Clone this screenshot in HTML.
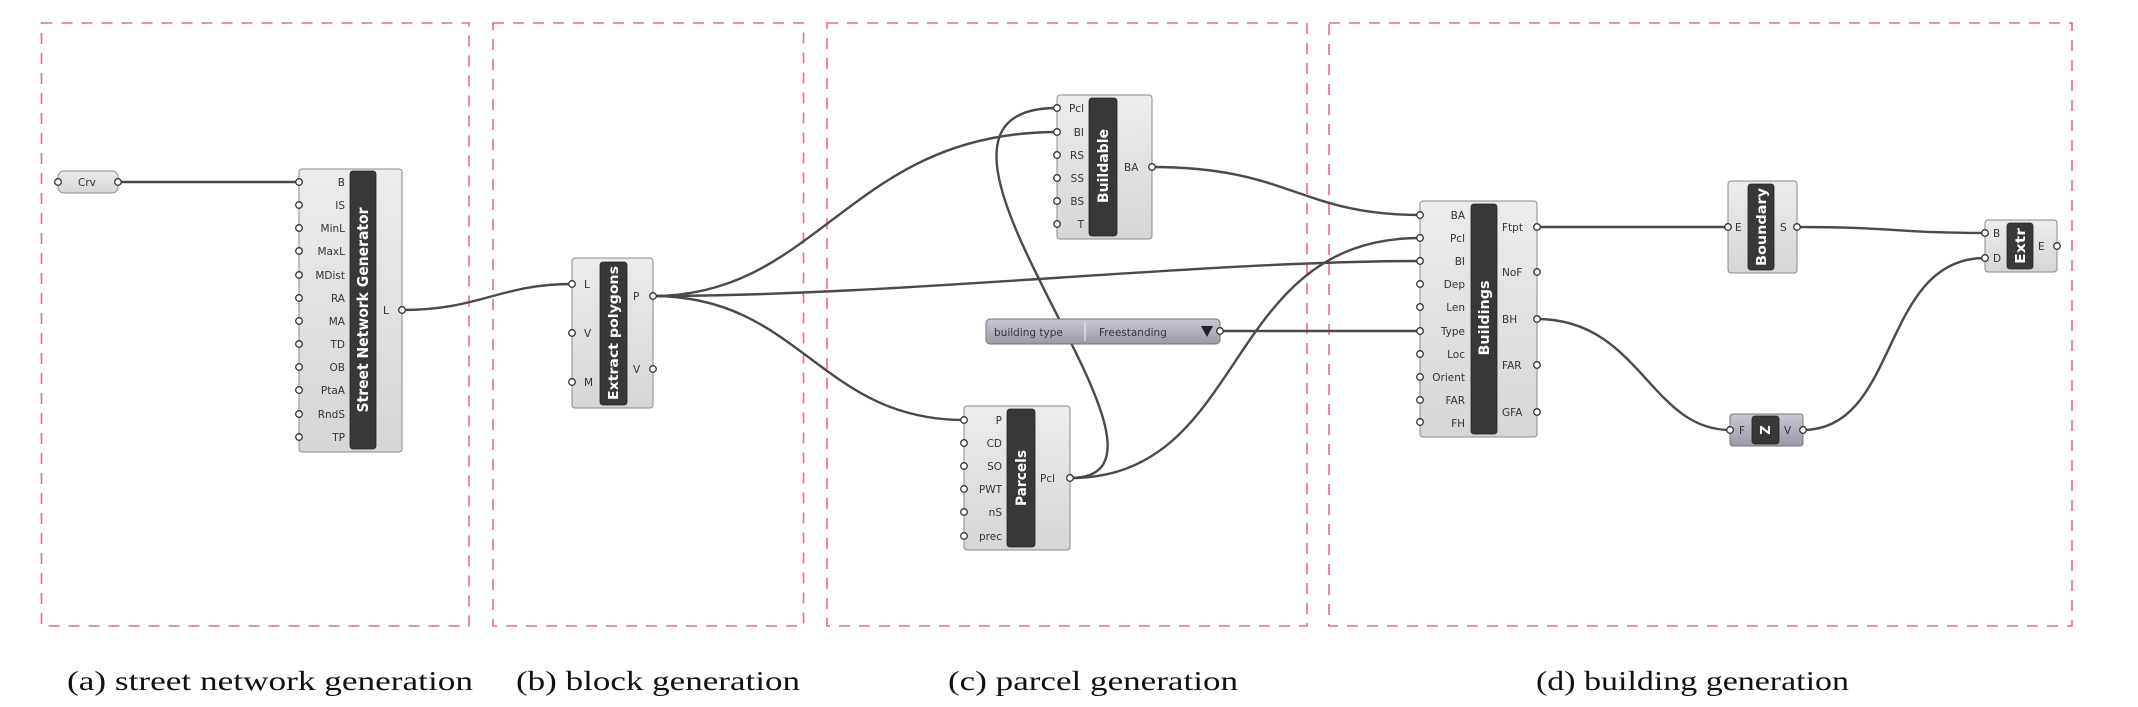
<!DOCTYPE html>
<html><head><meta charset="utf-8"><style>
html,body{margin:0;padding:0;background:#fff;}
svg{display:block}
.lbl{font-family:"DejaVu Sans","Liberation Sans",sans-serif;font-size:10.5px;fill:#333}
.bar{font-family:"DejaVu Sans","Liberation Sans",sans-serif;font-weight:bold;fill:#fff}
.cap{font-family:"Liberation Serif",serif;font-size:27px;fill:#111}
.w{fill:none;stroke:#4a4a4a;stroke-width:2.4}
.box{fill:none;stroke:#ec6b80;stroke-width:1.6;stroke-dasharray:11 9}
.node{fill:url(#g);stroke:#8a8a8a;stroke-width:1}
.db{fill:#383838;stroke:#222;stroke-width:0.8}
.grip{fill:#fff;stroke:#333;stroke-width:1.3}
</style></head><body>
<svg width="2138" height="707" viewBox="0 0 2138 707" xmlns="http://www.w3.org/2000/svg">
<defs>
<linearGradient id="g" x1="0" y1="0" x2="0" y2="1"><stop offset="0" stop-color="#ececec"/><stop offset="1" stop-color="#d6d6d6"/></linearGradient>
<linearGradient id="p" x1="0" y1="0" x2="0" y2="1"><stop offset="0" stop-color="#c9c9d3"/><stop offset="1" stop-color="#9a9aa8"/></linearGradient>
</defs>
<!-- dashed boxes -->
<rect class="box" x="41.5" y="23" width="427.5" height="603"/>
<rect class="box" x="493" y="23" width="310.5" height="603"/>
<rect class="box" x="827" y="23" width="480" height="603"/>
<rect class="box" x="1329" y="23" width="743" height="603"/>

<!-- wires -->
<path class="w" d="M118,182 L299,182"/>
<path class="w" d="M402,310 C480,310 500,284 572,284"/>
<path class="w" d="M653,296 C820,296 850,132 1057,132"/>
<path class="w" d="M653,296 C900,296 1200,261 1420,261"/>
<path class="w" d="M653,296 C800,296 820,420 964,420"/>
<path class="w" d="M1070,478 C1220,478 860,108 1057,108"/>
<path class="w" d="M1070,478 C1250,478 1220,238 1420,238"/>
<path class="w" d="M1152,167 C1290,167 1300,215 1420,215"/>
<path class="w" d="M1220,331 L1420,331"/>
<path class="w" d="M1537,227 L1728,227"/>
<path class="w" d="M1797,227 C1890,227 1900,233 1985,233"/>
<path class="w" d="M1537,319 C1640,319 1650,430 1730,430"/>
<path class="w" d="M1803,430 C1900,430 1880,258 1985,258"/>

<!-- Crv -->
<rect class="node" x="58" y="171" width="60" height="22" rx="6"/>
<text class="lbl" x="78" y="186">Crv</text>
<circle class="grip" cx="58" cy="182" r="3.3"/><circle class="grip" cx="118" cy="182" r="3.3"/>

<!-- Street Network Generator -->
<rect class="node" x="299" y="169" width="103" height="283" rx="3"/>
<rect class="db" x="350" y="171" width="26" height="278" rx="3"/>
<text class="bar" font-size="15" transform="translate(368,310) rotate(-90)" text-anchor="middle" textLength="205" lengthAdjust="spacingAndGlyphs">Street Network Generator</text>
<g text-anchor="end" class="lbl">
<text x="345" y="186">B</text><text x="345" y="209">IS</text><text x="345" y="232">MinL</text><text x="345" y="255">MaxL</text><text x="345" y="279">MDist</text><text x="345" y="302">RA</text><text x="345" y="325">MA</text><text x="345" y="348">TD</text><text x="345" y="371">OB</text><text x="345" y="394">PtaA</text><text x="345" y="418">RndS</text><text x="345" y="441">TP</text>
</g>
<text class="lbl" x="383" y="314">L</text>
<g><circle class="grip" cx="299" cy="182" r="3.3"/><circle class="grip" cx="299" cy="205" r="3.3"/><circle class="grip" cx="299" cy="228" r="3.3"/><circle class="grip" cx="299" cy="251" r="3.3"/><circle class="grip" cx="299" cy="275" r="3.3"/><circle class="grip" cx="299" cy="298" r="3.3"/><circle class="grip" cx="299" cy="321" r="3.3"/><circle class="grip" cx="299" cy="344" r="3.3"/><circle class="grip" cx="299" cy="367" r="3.3"/><circle class="grip" cx="299" cy="390" r="3.3"/><circle class="grip" cx="299" cy="414" r="3.3"/><circle class="grip" cx="299" cy="437" r="3.3"/><circle class="grip" cx="402" cy="310" r="3.3"/></g>

<!-- Extract polygons -->
<rect class="node" x="572" y="258" width="81" height="150" rx="3"/>
<rect class="db" x="600" y="262" width="27" height="143" rx="3"/>
<text class="bar" font-size="13" transform="translate(618,333) rotate(-90)" text-anchor="middle" textLength="134" lengthAdjust="spacingAndGlyphs">Extract polygons</text>
<text class="lbl" x="584" y="288">L</text><text class="lbl" x="584" y="337">V</text><text class="lbl" x="584" y="386">M</text>
<text class="lbl" x="633" y="300">P</text><text class="lbl" x="633" y="373">V</text>
<circle class="grip" cx="572" cy="284" r="3.3"/><circle class="grip" cx="572" cy="333" r="3.3"/><circle class="grip" cx="572" cy="382" r="3.3"/><circle class="grip" cx="653" cy="296" r="3.3"/><circle class="grip" cx="653" cy="369" r="3.3"/>

<!-- Buildable -->
<rect class="node" x="1057" y="95" width="95" height="144" rx="3"/>
<rect class="db" x="1089" y="98" width="28" height="138" rx="3"/>
<text class="bar" font-size="14" transform="translate(1108,166) rotate(-90)" text-anchor="middle" textLength="74" lengthAdjust="spacingAndGlyphs">Buildable</text>
<g text-anchor="end" class="lbl"><text x="1084" y="112">Pcl</text><text x="1084" y="136">BI</text><text x="1084" y="159">RS</text><text x="1084" y="182">SS</text><text x="1084" y="205">BS</text><text x="1084" y="228">T</text></g>
<text class="lbl" x="1124" y="171">BA</text>
<circle class="grip" cx="1057" cy="108" r="3.3"/><circle class="grip" cx="1057" cy="132" r="3.3"/><circle class="grip" cx="1057" cy="155" r="3.3"/><circle class="grip" cx="1057" cy="178" r="3.3"/><circle class="grip" cx="1057" cy="201" r="3.3"/><circle class="grip" cx="1057" cy="224" r="3.3"/><circle class="grip" cx="1152" cy="167" r="3.3"/>

<!-- building type slider -->
<rect x="986" y="319" width="234" height="25" rx="4" fill="url(#p)" stroke="#777"/>
<line x1="1085" y1="322" x2="1085" y2="341" stroke="#eee"/>
<text class="lbl" x="994" y="336" fill="#222">building type</text>
<text class="lbl" x="1099" y="336" fill="#222">Freestanding</text>
<polygon points="1201,326 1213,326 1207,337" fill="#222"/>
<circle class="grip" cx="1220" cy="331" r="3.3"/>

<!-- Parcels -->
<rect class="node" x="964" y="406" width="106" height="144" rx="3"/>
<rect class="db" x="1007" y="409" width="28" height="138" rx="3"/>
<text class="bar" font-size="14" transform="translate(1026,478) rotate(-90)" text-anchor="middle" textLength="56" lengthAdjust="spacingAndGlyphs">Parcels</text>
<g text-anchor="end" class="lbl"><text x="1002" y="424">P</text><text x="1002" y="447">CD</text><text x="1002" y="470">SO</text><text x="1002" y="493">PWT</text><text x="1002" y="516">nS</text><text x="1002" y="540">prec</text></g>
<text class="lbl" x="1040" y="482">Pcl</text>
<circle class="grip" cx="964" cy="420" r="3.3"/><circle class="grip" cx="964" cy="443" r="3.3"/><circle class="grip" cx="964" cy="466" r="3.3"/><circle class="grip" cx="964" cy="489" r="3.3"/><circle class="grip" cx="964" cy="512" r="3.3"/><circle class="grip" cx="964" cy="536" r="3.3"/><circle class="grip" cx="1070" cy="478" r="3.3"/>

<!-- Buildings -->
<rect class="node" x="1420" y="201" width="117" height="236" rx="3"/>
<rect class="db" x="1471" y="204" width="26" height="230" rx="3"/>
<text class="bar" font-size="14" transform="translate(1489,318) rotate(-90)" text-anchor="middle" textLength="75" lengthAdjust="spacingAndGlyphs">Buildings</text>
<g text-anchor="end" class="lbl"><text x="1465" y="219">BA</text><text x="1465" y="242">Pcl</text><text x="1465" y="265">BI</text><text x="1465" y="288">Dep</text><text x="1465" y="311">Len</text><text x="1465" y="335">Type</text><text x="1465" y="358">Loc</text><text x="1465" y="381">Orient</text><text x="1465" y="404">FAR</text><text x="1465" y="427">FH</text></g>
<g class="lbl"><text x="1502" y="231">Ftpt</text><text x="1502" y="276">NoF</text><text x="1502" y="323">BH</text><text x="1502" y="369">FAR</text><text x="1502" y="416">GFA</text></g>
<g><circle class="grip" cx="1420" cy="215" r="3.3"/><circle class="grip" cx="1420" cy="238" r="3.3"/><circle class="grip" cx="1420" cy="261" r="3.3"/><circle class="grip" cx="1420" cy="284" r="3.3"/><circle class="grip" cx="1420" cy="307" r="3.3"/><circle class="grip" cx="1420" cy="331" r="3.3"/><circle class="grip" cx="1420" cy="354" r="3.3"/><circle class="grip" cx="1420" cy="377" r="3.3"/><circle class="grip" cx="1420" cy="400" r="3.3"/><circle class="grip" cx="1420" cy="422" r="3.3"/>
<circle class="grip" cx="1537" cy="227" r="3.3"/><circle class="grip" cx="1537" cy="272" r="3.3"/><circle class="grip" cx="1537" cy="319" r="3.3"/><circle class="grip" cx="1537" cy="365" r="3.3"/><circle class="grip" cx="1537" cy="412" r="3.3"/></g>

<!-- Boundary -->
<rect class="node" x="1728" y="181" width="69" height="92" rx="3"/>
<rect class="db" x="1748" y="184" width="26" height="86" rx="3"/>
<text class="bar" font-size="13" transform="translate(1766,227) rotate(-90)" text-anchor="middle" textLength="78" lengthAdjust="spacingAndGlyphs">Boundary</text>
<text class="lbl" x="1735" y="231">E</text><text class="lbl" x="1780" y="231">S</text>
<circle class="grip" cx="1728" cy="227" r="3.3"/><circle class="grip" cx="1797" cy="227" r="3.3"/>

<!-- Extr -->
<rect class="node" x="1985" y="220" width="72" height="52" rx="3"/>
<rect class="db" x="2007" y="223" width="26" height="46" rx="3"/>
<text class="bar" font-size="13" transform="translate(2025,246) rotate(-90)" text-anchor="middle" textLength="36" lengthAdjust="spacingAndGlyphs">Extr</text>
<text class="lbl" x="1993" y="237">B</text><text class="lbl" x="1993" y="262">D</text><text class="lbl" x="2038" y="250">E</text>
<circle class="grip" cx="1985" cy="233" r="3.3"/><circle class="grip" cx="1985" cy="258" r="3.3"/><circle class="grip" cx="2057" cy="246" r="3.3"/>

<!-- Z -->
<rect x="1730" y="414" width="73" height="32" rx="3" fill="url(#p)" stroke="#777"/>
<rect class="db" x="1752" y="416" width="27" height="28" rx="3"/>
<text class="bar" font-size="13" transform="translate(1770,430) rotate(-90)" text-anchor="middle">Z</text>
<text class="lbl" x="1739" y="434">F</text><text class="lbl" x="1784" y="434">V</text>
<circle class="grip" cx="1730" cy="430" r="3.3"/><circle class="grip" cx="1803" cy="430" r="3.3"/>

<!-- captions -->
<text class="cap" x="67" y="690" textLength="406" lengthAdjust="spacingAndGlyphs">(a) street network generation</text>
<text class="cap" x="516" y="690" textLength="284" lengthAdjust="spacingAndGlyphs">(b) block generation</text>
<text class="cap" x="948" y="690" textLength="290" lengthAdjust="spacingAndGlyphs">(c) parcel generation</text>
<text class="cap" x="1536" y="690" textLength="313" lengthAdjust="spacingAndGlyphs">(d) building generation</text>
</svg>
</body></html>
